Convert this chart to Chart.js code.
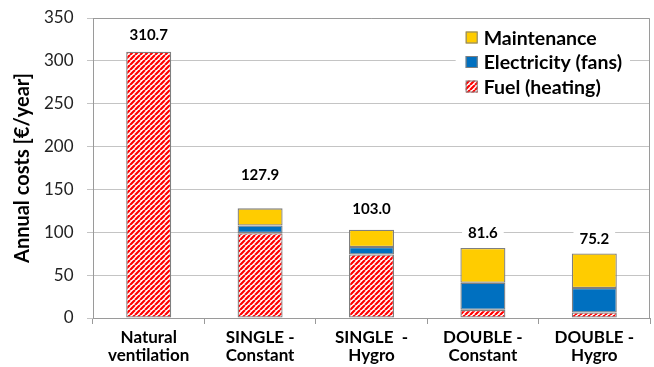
<!DOCTYPE html>
<html>
<head>
<meta charset="utf-8">
<script src="https://cdn.jsdelivr.net/npm/chart.js@4/dist/chart.umd.min.js"></script>
<style>
  html, body { margin: 0; padding: 0; background: #fff; }
  #wrap { width: 654px; height: 367px; }
</style>
</head>
<body>
<div id="wrap"><canvas id="c" width="654" height="367"></canvas></div>
<script>
// Ventilation options (two-line category labels)
const categories = [
  ["Natural", "ventilation"],
  ["SINGLE -", "Constant"],
  ["SINGLE  -", "Hygro"],
  ["DOUBLE -", "Constant"],
  ["DOUBLE -", "Hygro"]
];

// Annual cost components, €/year
const fuel        = [310.7, 99.0, 74.0,  9.5,  6.4];
const electricity = [  0.0,  8.9,  8.8, 31.6, 28.6];
const maintenance = [  0.0, 20.0, 20.2, 40.5, 40.2];

const yTicks = [0, 50, 100, 150, 200, 250, 300, 350];

const FONT = "Lato, 'Open Sans', sans-serif";
const canvas = document.getElementById('c');
const ctx = canvas.getContext('2d');

// Red / white diagonal hatch for the heating-fuel series
function hatch() {
  const s = 5;
  const t = document.createElement('canvas');
  t.width = t.height = s;
  const g = t.getContext('2d');
  g.fillStyle = '#ffffff';
  g.fillRect(0, 0, s, s);
  g.strokeStyle = '#ff0000';
  g.lineWidth = 2.2;
  g.beginPath();
  for (let k = -1; k <= 1; k++) {
    g.moveTo(k * s, s);
    g.lineTo(k * s + s, 0);
  }
  g.stroke();
  return ctx.createPattern(t, 'repeat');
}
const fuelFill = hatch();

// How far each total label sits above its bar
const labelRaise = [17, 33, 21, 15, 14];

const totalsPlugin = {
  id: 'totals',
  afterDatasetsDraw(chart) {
    const c = chart.ctx;
    const xs = chart.scales.x, ys = chart.scales.y;
    c.save();
    c.font = "bold 15px " + FONT;
    c.textAlign = 'center';
    c.textBaseline = 'middle';
    categories.forEach((_, i) => {
      const total = fuel[i] + electricity[i] + maintenance[i];
      const txt = total.toFixed(1);
      const x = xs.getPixelForValue(i);
      const y = ys.getPixelForValue(total) - labelRaise[i];
      const w = c.measureText(txt).width + 12;
      c.fillStyle = '#ffffff';
      c.fillRect(x - w / 2, y - 11, w, 22);
      c.fillStyle = '#000000';
      c.fillText(txt, x, y);
    });
    c.restore();
  }
};

const frameLegendPlugin = {
  id: 'frameLegend',
  afterDraw(chart) {
    const c = chart.ctx;
    const a = chart.chartArea;
    c.save();
    // plot frame: top and right edges
    c.strokeStyle = '#9a9a9a';
    c.lineWidth = 1;
    c.beginPath();
    c.moveTo(a.left, a.top + 0.5);
    c.lineTo(a.right - 0.5, a.top + 0.5);
    c.lineTo(a.right - 0.5, a.bottom);
    c.stroke();

    // legend, top series first
    const items = chart.data.datasets.slice().reverse();
    c.font = "bold 19.5px " + FONT;
    const maxW = Math.max(...items.map(d => c.measureText(d.label).width));
    const right = a.right - 20;
    const left = right - (10 + 12 + 6 + maxW + 8);
    const top = a.top + 8;
    const rowH = 24.5;
    c.fillStyle = '#ffffff';
    c.fillRect(left, top, right - left, rowH * items.length + 2);
    c.textBaseline = 'middle';
    items.forEach((d, k) => {
      const cy = top + 11.5 + k * rowH;
      const bx = left + 10;
      c.fillStyle = d.backgroundColor;
      c.fillRect(bx, cy - 6, 12, 12);
      c.strokeStyle = '#7f7f7f';
      c.lineWidth = 1;
      c.strokeRect(bx + 0.5, cy - 5.5, 11, 11);
      c.fillStyle = '#000000';
      c.fillText(d.label, bx + 18, cy + 1);
    });
    c.restore();
  }
};

new Chart(ctx, {
  type: 'bar',
  data: {
    labels: categories,
    datasets: [
      { label: 'Fuel (heating)', data: fuel, backgroundColor: fuelFill },
      { label: 'Electricity (fans)', data: electricity, backgroundColor: '#0070c0' },
      { label: 'Maintenance', data: maintenance, backgroundColor: '#ffcc00' }
    ]
  },
  options: {
    responsive: false,
    animation: false,
    devicePixelRatio: 1,
    layout: { padding: { top: 18, right: 4, left: 0, bottom: 0 } },
    datasets: {
      bar: {
        stack: 'cost',
        barPercentage: 0.404,
        categoryPercentage: 1.0,
        borderColor: '#7f7f7f',
        borderWidth: 1.3,
        borderSkipped: false
      }
    },
    plugins: {
      legend: { display: false },
      tooltip: { enabled: false }
    },
    scales: {
      x: {
        stacked: true,
        afterFit(s) { s.height = 49; s.paddingLeft = 0; s.paddingRight = 0; },
        grid: { drawOnChartArea: false, tickLength: 6, color: '#9a9a9a', offset: true },
        border: { color: '#9a9a9a' },
        ticks: {
          font: { family: FONT, size: 17, weight: 'bold', lineHeight: 1.07 },
          color: '#000000',
          padding: 4,
          maxRotation: 0
        }
      },
      y: {
        stacked: true,
        min: 0,
        max: 350,
        afterFit(s) { s.width = 93; s.paddingTop = 0; s.paddingBottom = 0; },
        afterBuildTicks(s) { s.ticks = yTicks.map(v => ({ value: v })); },
        grid: { color: '#c4c4c4', tickLength: 6 },
        border: { color: '#9a9a9a' },
        ticks: {
          font: { family: FONT, size: 17 },
          color: '#222222',
          padding: 13.5
        },
        title: {
          display: true,
          text: 'Annual costs [€/year]',
          font: { family: FONT, size: 20, weight: 'bold' },
          color: '#000000',
          padding: { top: 11, bottom: 0 }
        }
      }
    }
  },
  plugins: [totalsPlugin, frameLegendPlugin]
});
</script>
</body>
</html>
